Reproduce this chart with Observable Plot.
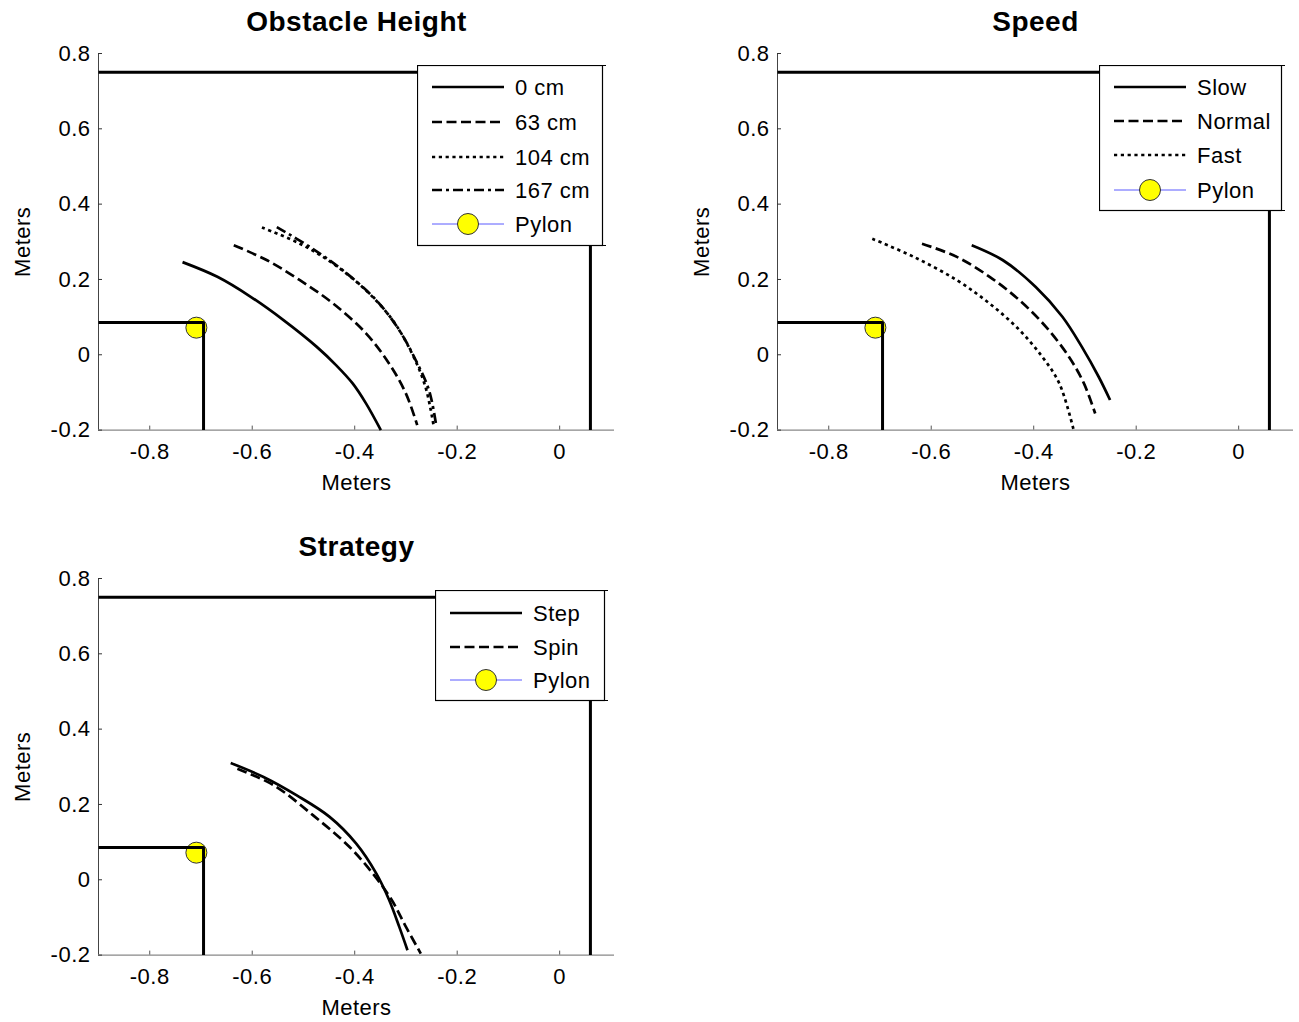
<!DOCTYPE html>
<html>
<head>
<meta charset="utf-8">
<script src="https://cdn.jsdelivr.net/npm/d3@7"></script>
<script src="https://cdn.jsdelivr.net/npm/@observablehq/plot@0.6"></script>
<style>
  html, body { margin: 0; padding: 0; background: #fff; }
  #fig { position: relative; width: 1299px; height: 1022px; background: #fff; overflow: hidden; }
  .panel { position: absolute; width: 650px; height: 500px; }
  .panel svg { max-width: none !important; }
  .legend { position: absolute; }
</style>
</head>
<body>
<div id="fig"></div>
<script>
// ---------- Data ----------
const xTicks = [-0.8, -0.6, -0.4, -0.2, 0];
const yTicks = [-0.2, 0, 0.2, 0.4, 0.6, 0.8];
const xDomain = [-0.9, 0.107];
const yDomain = [-0.2, 0.8];

// room walls (top wall and right wall)
const wallX = [-0.9, 0.06, 0.06];
const wallY = [0.75, 0.75, -0.2];
// obstacle corner
const obstacleX = [-0.9, -0.695, -0.695];
const obstacleY = [0.086, 0.086, -0.2];
// pylon
const pylonX = [-0.709];
const pylonY = [0.072];

// Obstacle Height
const heightLabels = ["0 cm", "63 cm", "104 cm", "167 cm"];
const h0X = [-0.736, -0.668, -0.603, -0.539, -0.474, -0.436, -0.404, -0.378, -0.349];
const h0Y = [0.246, 0.207, 0.154, 0.092, 0.021, -0.028, -0.076, -0.129, -0.200];
const h63X = [-0.636, -0.571, -0.507, -0.442, -0.378, -0.333, -0.300, -0.278];
const h63Y = [0.291, 0.251, 0.198, 0.136, 0.057, -0.023, -0.103, -0.187];
const h104X = [-0.581, -0.507, -0.442, -0.378, -0.326, -0.288, -0.262, -0.246];
const h104Y = [0.338, 0.295, 0.242, 0.171, 0.092, 0.003, -0.085, -0.188];
const h167X = [-0.552, -0.487, -0.423, -0.358, -0.313, -0.281, -0.255, -0.241];
const h167Y = [0.339, 0.286, 0.224, 0.145, 0.065, -0.014, -0.094, -0.187];

// Speed
const speedLabels = ["Slow", "Normal", "Fast"];
const slowX = [-0.521, -0.460, -0.396, -0.344, -0.306, -0.273, -0.251];
const slowY = [0.291, 0.251, 0.180, 0.101, 0.021, -0.059, -0.120];
const normalX = [-0.618, -0.550, -0.486, -0.428, -0.376, -0.331, -0.302, -0.280];
const normalY = [0.295, 0.260, 0.207, 0.145, 0.074, -0.006, -0.076, -0.156];
const fastX = [-0.715, -0.634, -0.550, -0.486, -0.428, -0.383, -0.350, -0.322];
const fastY = [0.308, 0.260, 0.198, 0.136, 0.066, -0.006, -0.076, -0.200];

// Strategy
const strategyLabels = ["Step", "Spin"];
const stepX = [-0.642, -0.578, -0.513, -0.449, -0.397, -0.358, -0.333, -0.313, -0.297];
const stepY = [0.310, 0.273, 0.224, 0.167, 0.096, 0.017, -0.053, -0.125, -0.187];
const spinX = [-0.629, -0.558, -0.481, -0.410, -0.365, -0.328, -0.300, -0.271];
const spinY = [0.295, 0.251, 0.171, 0.087, 0.017, -0.053, -0.125, -0.196];

// ---------- Styles ----------
const DASH = {solid: null, dashed: "10,4.5", dotted: "3.2,3.6", dashdot: "10,4,3,4"};
const FONT = "'Liberation Sans', Arial, Helvetica, sans-serif";

const W = 650, H = 500, ML = 98, MT = 53, PW = 516, PH = 376.6;

const zip = (xs, ys) => xs.map((x, i) => ({x, y: ys[i]}));

function panel(title, series) {
  return Plot.plot({
    width: W, height: H,
    marginLeft: ML, marginRight: W - ML - PW, marginTop: MT, marginBottom: H - MT - PH,
    x: {domain: xDomain},
    y: {domain: yDomain},
    style: {fontFamily: FONT, fontSize: "22px", letterSpacing: "0.5px", background: "transparent", color: "black", overflow: "visible", maxWidth: "none"},
    marks: [
      Plot.ruleX([xDomain[0]], {stroke: "#444", strokeWidth: 1}),
      Plot.ruleY([yDomain[0]], {stroke: "#888", strokeWidth: 1.2}),
      Plot.tickY(yTicks, {y: d => d, insetRight: PW - 4, stroke: "#333"}),
      Plot.tickX(xTicks, {x: d => d, insetTop: PH - 4, stroke: "#555"}),
      Plot.axisY({ticks: yTicks, tickSize: 0, tickPadding: 8, tickFormat: d => String(d), label: null, fontSize: 22}),
      Plot.axisX({ticks: xTicks, tickSize: 0, tickPadding: 13, tickFormat: d => String(d), label: null, fontSize: 22}),
      Plot.text(["Meters"], {frameAnchor: "bottom", lineAnchor: "middle", textAnchor: "middle", dy: 53, text: d => d, fontSize: 22}),
      Plot.text(["Meters"], {frameAnchor: "left", lineAnchor: "middle", textAnchor: "middle", dx: -76, rotate: -90, text: d => d, fontSize: 22}),
      Plot.text([title], {frameAnchor: "top", lineAnchor: "middle", textAnchor: "middle", dy: -31, text: d => d, fontSize: 28, fontWeight: "bold"}),
      ...series.map(s => Plot.line(zip(s.x, s.y), {
        x: "x", y: "y", stroke: "black", strokeWidth: 2.7,
        strokeDasharray: DASH[s.dash], curve: "catmull-rom", strokeLinecap: "butt"
      })),
      Plot.dot(zip(pylonX, pylonY), {x: "x", y: "y", r: 10.5, fill: "#ffff00", stroke: "#333", strokeWidth: 1}),
      Plot.line(zip(wallX, wallY), {x: "x", y: "y", stroke: "black", strokeWidth: 3, strokeLinejoin: "miter", strokeLinecap: "butt"}),
      Plot.line(zip(obstacleX, obstacleY), {x: "x", y: "y", stroke: "black", strokeWidth: 3, strokeLinejoin: "miter", strokeLinecap: "butt"})
    ]
  });
}

function legend(parent, left, top, w, h, items, rowYs) {
  const svg = d3.select(parent).append("svg")
    .attr("class", "legend")
    .attr("width", w + 6).attr("height", h + 2)
    .style("left", (left - 0.5) + "px").style("top", (top - 0.5) + "px")
    .style("font-family", FONT).style("font-size", "22px").style("letter-spacing", "0.5px");
  svg.append("rect").attr("x", 0.5).attr("y", 0.5).attr("width", w).attr("height", h)
    .attr("fill", "white").attr("stroke", "black").attr("stroke-width", 1.2);
  // small corner ticks typical of MATLAB legends
  svg.append("line").attr("x1", w + 0.5).attr("x2", w + 4).attr("y1", 0.5).attr("y2", 0.5).attr("stroke", "black");
  svg.append("line").attr("x1", w + 0.5).attr("x2", w + 4).attr("y1", h + 0.5).attr("y2", h + 0.5).attr("stroke", "black");
  items.forEach((it, i) => {
    const cy = rowYs[i];
    if (it.pylon) {
      svg.append("line").attr("x1", 15).attr("x2", 87).attr("y1", cy).attr("y2", cy)
        .attr("stroke", "#5a5aff").attr("stroke-width", 1);
      svg.append("circle").attr("cx", 51).attr("cy", cy).attr("r", 10.5)
        .attr("fill", "#ffff00").attr("stroke", "#333").attr("stroke-width", 1);
    } else {
      svg.append("line").attr("x1", 15).attr("x2", 87).attr("y1", cy).attr("y2", cy)
        .attr("stroke", "black").attr("stroke-width", 2.7)
        .attr("stroke-dasharray", DASH[it.dash]);
    }
    svg.append("text").attr("x", 98).attr("y", cy).attr("dy", "0.36em").text(it.label);
  });
}

const fig = document.getElementById("fig");
function place(node, left, top) {
  const d = document.createElement("div");
  d.className = "panel";
  d.style.left = left + "px";
  d.style.top = top + "px";
  d.appendChild(node);
  fig.appendChild(d);
}

const dashes1 = ["solid", "dashed", "dotted", "dashdot"];
place(panel("Obstacle Height", [
  {x: h0X, y: h0Y, dash: "solid"},
  {x: h63X, y: h63Y, dash: "dashed"},
  {x: h104X, y: h104Y, dash: "dotted"},
  {x: h167X, y: h167Y, dash: "dashdot"}
]), 0, 0);

place(panel("Speed", [
  {x: slowX, y: slowY, dash: "solid"},
  {x: normalX, y: normalY, dash: "dashed"},
  {x: fastX, y: fastY, dash: "dotted"}
]), 679, 0);

place(panel("Strategy", [
  {x: stepX, y: stepY, dash: "solid"},
  {x: spinX, y: spinY, dash: "dashed"}
]), 0, 525);

legend(fig, 417, 65, 185, 180,
  [...heightLabels.map((l, i) => ({label: l, dash: dashes1[i]})), {label: "Pylon", pylon: true}],
  [22, 57, 92, 125, 159]);
legend(fig, 1099, 65, 182, 145,
  [...speedLabels.map((l, i) => ({label: l, dash: dashes1[i]})), {label: "Pylon", pylon: true}],
  [22, 56, 90, 125]);
legend(fig, 435, 590, 169, 110,
  [...strategyLabels.map((l, i) => ({label: l, dash: dashes1[i]})), {label: "Pylon", pylon: true}],
  [23, 57, 90]);
</script>
</body>
</html>
